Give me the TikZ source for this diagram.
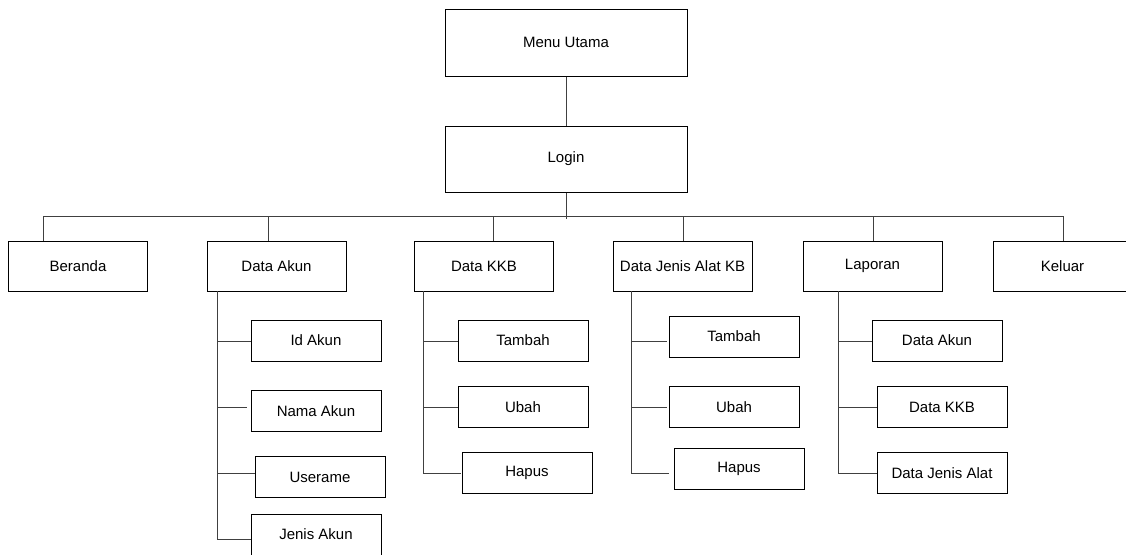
\documentclass[tikz,border=0pt]{standalone}
\usepackage{fontspec}
\setmainfont{Liberation Sans}
\begin{document}
\begin{tikzpicture}[x=1pt,y=-1pt,
  menubox/.style={draw=black, line width=1pt, inner sep=0pt, anchor=center,
    font=\fontsize{15}{18}\selectfont},
  topbox/.style={menubox, minimum width=242pt, minimum height=66pt},
  mainbox/.style={menubox, minimum width=139pt, minimum height=50pt},
  subbox/.style={menubox, minimum width=130pt, minimum height=41pt},
  link/.style={draw=black!75, line width=1pt}]
\useasboundingbox (0,0) rectangle (1126,554);
\clip (0,0) rectangle (1126,554);

% top of the hierarchy
\node[topbox, minimum height=67pt] (menu) at (566,42.5) {Menu Utama};
\node[topbox] (login) at (566,159) {Login};

% first level menu items
\node[mainbox] (beranda) at (78,266) {Beranda};
\node[mainbox] (dakun)   at (276.5,266) {Data Akun};
\node[mainbox] (dkkb)    at (484,266) {Data KKB};
\node[mainbox] (djenis)  at (682.5,266) {Data Jenis Alat KB};
\node[mainbox] (laporan) at (872.5,266) {Laporan};
\node[mainbox] (keluar)  at (1062.5,266) {Keluar};

% Data Akun items
\node[subbox] (idakun)    at (316,340.5) {Id Akun};
\node[subbox] (namaakun)  at (316,411) {Nama Akun};
\node[subbox] (userame)   at (320,477) {Userame};
\node[subbox] (jenisakun) at (316,534.5) {Jenis Akun};

% Data KKB items
\node[subbox] (tambahA) at (523,340.5) {Tambah};
\node[subbox] (ubahA)   at (523,407) {Ubah};
\node[subbox] (hapusA)  at (527,473) {Hapus};

% Data Jenis Alat KB items
\node[subbox] (tambahB) at (734,336.5) {Tambah};
\node[subbox] (ubahB)   at (734,407) {Ubah};
\node[subbox] (hapusB)  at (739,468.5) {Hapus};

% Laporan items
\node[subbox] (lapakun)  at (937,340.5) {Data Akun};
\node[subbox] (lapkkb)   at (942,407) {Data KKB};
\node[subbox] (lapjenis) at (942,473) {Data Jenis Alat};

% bus and branch rows
\coordinate (loginend) at (566,219);
\coordinate (busL) at (43,216);
\coordinate (busR) at (1063,216);
\coordinate (bAkun) at (268,216);
\coordinate (bKKB) at (493,216);
\coordinate (bJenis) at (683,216);
\coordinate (bLap) at (873,216);
\coordinate (r1) at (0,341);
\coordinate (r2) at (0,407);
\coordinate (r3) at (0,473);
\coordinate (r4) at (0,539);
\coordinate (tAkun) at (217,291);
\coordinate (tKKB) at (423,291);
\coordinate (tJenis) at (631,291);
\coordinate (tLap) at (838,291);

\draw[link] (menu.south) -- (login.north);
\draw[link] (login.south) -- (loginend);
\draw[link] (busL) -- (busR);
\draw[link] (busL) -- (busL |- beranda.north);
\draw[link] (bAkun) -- (bAkun |- dakun.north);
\draw[link] (bKKB) -- (bKKB |- dkkb.north);
\draw[link] (bJenis) -- (bJenis |- djenis.north);
\draw[link] (bLap) -- (bLap |- laporan.north);
\draw[link] (busR) -- (busR |- keluar.north);

% Data Akun branches
\draw[link] (tAkun) -- (tAkun |- r4) -- (jenisakun.west |- r4);
\draw[link] (tAkun |- r1) -- (idakun.west |- r1);
\draw[link] (tAkun |- r2) -- ([xshift=-4pt]namaakun.west |- r2);
\draw[link] (tAkun |- r3) -- (userame.west |- r3);

% Data KKB branches
\draw[link] (tKKB) -- (tKKB |- r3) -- ([xshift=-1pt]hapusA.west |- r3);
\draw[link] (tKKB |- r1) -- (tambahA.west |- r1);
\draw[link] (tKKB |- r2) -- (ubahA.west |- r2);

% Data Jenis Alat KB branches
\draw[link] (tJenis) -- (tJenis |- r3) -- ([xshift=-5pt]hapusB.west |- r3);
\draw[link] (tJenis |- r1) -- ([xshift=-2pt]tambahB.west |- r1);
\draw[link] (tJenis |- r2) -- ([xshift=-2pt]ubahB.west |- r2);

% Laporan branches
\draw[link] (tLap) -- (tLap |- r3) -- (lapjenis.west |- r3);
\draw[link] (tLap |- r1) -- (lapakun.west |- r1);
\draw[link] (tLap |- r2) -- (lapkkb.west |- r2);
\end{tikzpicture}
\end{document}
